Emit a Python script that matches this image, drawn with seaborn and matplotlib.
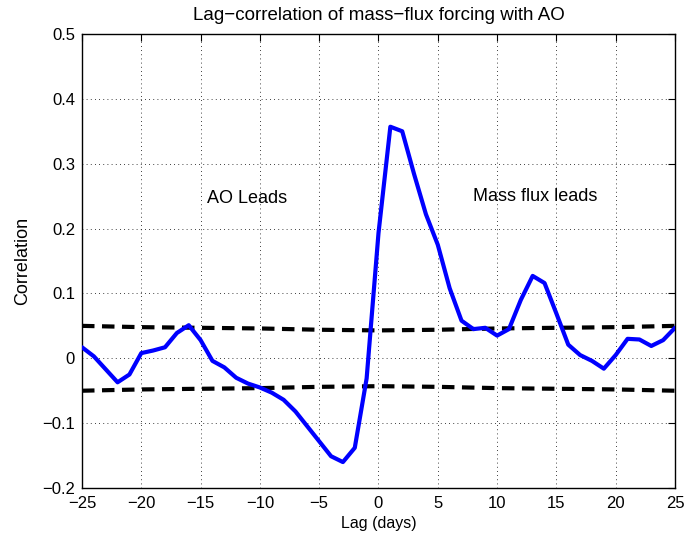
import matplotlib
matplotlib.use("Agg")
import matplotlib.pyplot as plt
import seaborn as sns
import numpy as np
import pandas as pd

# lag (days) and lag-correlation of mass-flux forcing with the AO
lags = list(range(-25, 26))
corr = [0.017, 0.003, -0.017, -0.037, -0.025, 0.008, 0.012, 0.017, 0.039, 0.051,
        0.028, -0.004, -0.014, -0.030, -0.039, -0.045, -0.053, -0.064, -0.082, -0.105,
        -0.128, -0.151, -0.160, -0.138, -0.031, 0.193, 0.357, 0.350, 0.284, 0.222,
        0.175, 0.108, 0.058, 0.045, 0.047, 0.035, 0.045, 0.090, 0.127, 0.116,
        0.069, 0.021, 0.005, -0.004, -0.016, 0.005, 0.030, 0.029, 0.019, 0.028, 0.047]

# significance levels
sig_lags = [-25, -20, -15, -10, -5, 0, 5, 10, 15, 20, 25]
sig_upper = [0.050, 0.048, 0.047, 0.046, 0.044, 0.043, 0.044, 0.046, 0.047, 0.048, 0.050]
sig_lower = [-v for v in sig_upper]

xticks = [-25, -20, -15, -10, -5, 0, 5, 10, 15, 20, 25]
yticks = [-0.2, -0.1, 0, 0.1, 0.2, 0.3, 0.4, 0.5]
ytick_labels = ["\u22120.2", "\u22120.1", "0", "0.1", "0.2", "0.3", "0.4", "0.5"]

sns.set_style("white")
plt.rcParams['font.family'] = ['Liberation Sans', 'DejaVu Sans']
plt.rcParams['text.color'] = 'black'
plt.rcParams['axes.labelcolor'] = 'black'

fig = plt.figure(figsize=(6.85, 5.42), dpi=100)
ax = fig.add_axes([0.1197, 0.0996, 0.8657, 0.8377])

df = pd.DataFrame({"lag": lags, "corr": corr})
sig = pd.DataFrame({"lag": sig_lags, "up": sig_upper, "lo": sig_lower})

sns.lineplot(data=df, x="lag", y="corr", ax=ax, color=(0, 0, 1), lw=3, zorder=3)
sns.lineplot(data=sig, x="lag", y="up", ax=ax, color="black", lw=3,
             dashes=False, zorder=2).lines[-1].set_dashes([3.0, 1.8])
sns.lineplot(data=sig, x="lag", y="lo", ax=ax, color="black", lw=3,
             dashes=False, zorder=2).lines[-1].set_dashes([3.0, 1.8])

ax.set_xlim(-25, 25)
ax.set_ylim(-0.2, 0.5)
ax.set_xticks(xticks)
ax.set_xticklabels([str(t).replace("-", "\u2212") for t in xticks])
ax.set_yticks(yticks)
ax.set_yticklabels(ytick_labels)
ax.grid(True, color="black", linestyle=(0, (1, 4)), linewidth=0.6)
ax.tick_params(direction="in", length=5, width=0.8, top=True, right=True,
               labelsize=12, colors="black")
ax.tick_params(axis="x", pad=6)
ax.tick_params(axis="y", pad=5)
for sp in ax.spines.values():
    sp.set_color("black")
    sp.set_linewidth(1.0)

ax.set_xlabel("Lag (days)", fontsize=11.5, labelpad=3, color="black")
ax.set_ylabel("Correlation", fontsize=13, labelpad=8, color="black")
ax.set_title("Lag\u2212correlation of mass\u2212flux forcing with AO", fontsize=13.5,
             pad=10, color="black")

ax.text(-14.5, 0.247, "AO Leads", fontsize=13, va="center")
ax.text(8.0, 0.25, "Mass flux leads", fontsize=13, va="center")

fig.savefig("out.png", dpi=100)
